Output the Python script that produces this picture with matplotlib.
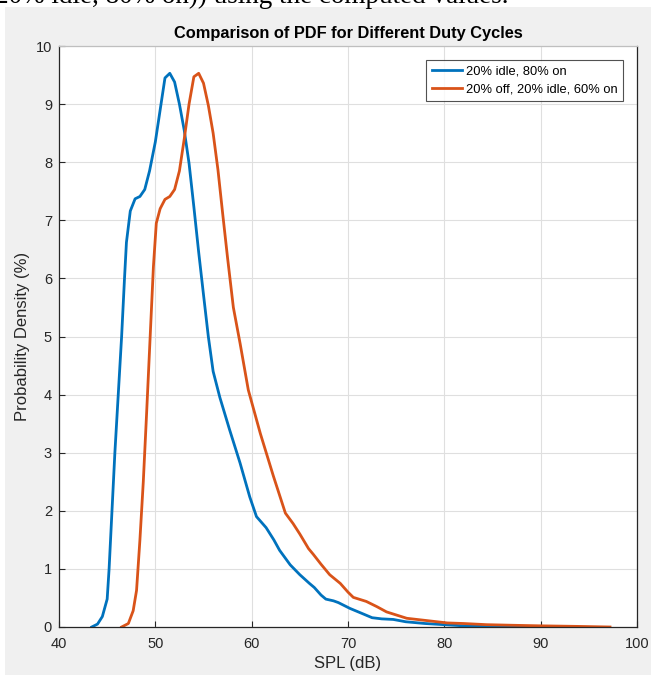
import matplotlib
matplotlib.use("Agg")
import matplotlib.pyplot as plt
from matplotlib.patches import Rectangle

# Data
spl_idle = [43.4, 44.0, 44.5, 45.0, 45.2, 45.5, 45.8, 46.15, 46.5, 46.8, 47.0, 47.4,
            47.9, 48.4, 48.9, 49.4, 50.0, 50.5, 51.0, 51.5, 52.0, 52.5, 53.0, 53.5,
            54.0, 54.5, 55.0, 55.5, 56.0, 56.7, 57.7, 58.8, 59.8, 60.5, 61.5, 62.3,
            62.9, 64.0, 65.0, 66.0, 66.5, 67.2, 67.7, 68.5, 69.0, 70.2, 71.5, 72.5,
            73.5, 74.7, 76.0, 78.0, 80.0, 82.0, 85.0, 90.0, 93.7]
pdf_idle = [0.0, 0.05, 0.18, 0.48, 1.0, 2.0, 3.0, 4.0, 5.0, 6.0, 6.62, 7.16,
            7.37, 7.41, 7.53, 7.85, 8.35, 8.9, 9.45, 9.53, 9.38, 9.0, 8.55, 7.98,
            7.23, 6.45, 5.72, 5.0, 4.4, 3.95, 3.4, 2.82, 2.24, 1.9, 1.71, 1.5,
            1.32, 1.07, 0.9, 0.75, 0.68, 0.55, 0.48, 0.45, 0.42, 0.32, 0.23, 0.16,
            0.14, 0.13, 0.09, 0.06, 0.04, 0.02, 0.01, 0.005, 0.0]

spl_off = [46.5, 47.2, 47.7, 48.05, 48.4, 48.75, 49.1, 49.45, 49.8, 50.1, 50.5, 51.0,
           51.5, 52.0, 52.5, 53.0, 53.5, 54.0, 54.5, 55.0, 55.5, 56.0, 56.5, 57.0,
           57.5, 58.1, 58.8, 59.65, 60.9, 62.25, 63.5, 64.3, 65.0, 65.9, 66.4, 67.2,
           68.1, 69.2, 70.0, 70.55, 71.9, 73.0, 74.0, 76.1, 78.2, 80.3, 82.0, 84.4,
           87.0, 90.0, 94.0, 97.2]
pdf_off = [0.0, 0.06, 0.28, 0.63, 1.5, 2.5, 3.7, 4.95, 6.2, 6.95, 7.2, 7.36,
           7.41, 7.53, 7.85, 8.4, 9.0, 9.47, 9.53, 9.36, 8.98, 8.5, 7.87, 7.1,
           6.35, 5.5, 4.88, 4.08, 3.33, 2.6, 1.96, 1.78, 1.6, 1.35, 1.25, 1.08,
           0.9, 0.75, 0.6, 0.51, 0.44, 0.35, 0.26, 0.15, 0.11, 0.07, 0.06, 0.04,
           0.03, 0.02, 0.01, 0.0]

labels = ["20% idle, 80% on", "20% off, 20% idle, 60% on"]
colors = ["#0072BD", "#D95319"]
x_ticks = [40, 50, 60, 70, 80, 90, 100]
y_ticks = [0, 1, 2, 3, 4, 5, 6, 7, 8, 9, 10]

plt.rcParams['font.family'] = ['Liberation Sans', 'DejaVu Sans']

W, H = 651, 675
fig = plt.figure(figsize=(W / 100, H / 100), dpi=100, facecolor="white")

# grey figure panel (screenshot of a MATLAB figure inside a document)
fig.patches.append(Rectangle((5 / W, 0), 1 - 5 / W, (H - 7) / H,
                             transform=fig.transFigure, facecolor="#f0f0f0",
                             edgecolor="none", zorder=-10))
# cut-off document text above the figure
fig.text(-0.008, 1 - 3 / H, "20% idle, 80% on)) using the computed values.",
         family="Liberation Serif", fontsize=19.5, color="black",
         ha="left", va="baseline")

ax = fig.add_axes([59 / W, (H - 627) / H, (637 - 59) / W, (627 - 46) / H])
ax.set_facecolor("white")

ax.plot(spl_idle, pdf_idle, color=colors[0], lw=2.0, label=labels[0])
ax.plot(spl_off, pdf_off, color=colors[1], lw=2.0, label=labels[1])

ax.set_xlim(40, 100)
ax.set_ylim(0, 10)
ax.set_xticks(x_ticks)
ax.set_yticks(y_ticks)
ax.grid(True, color="#dfdfdf", lw=0.8)
ax.set_axisbelow(True)
ax.tick_params(direction="in", length=4, width=0.8, colors="#262626",
               labelsize=10.5, top=False, right=False)
ax.tick_params(axis="x", pad=7)
ax.tick_params(axis="y", pad=5)
for s in ax.spines.values():
    s.set_color("#262626")
    s.set_linewidth(0.9)
ax.spines["top"].set_color("#bfbfbf")

ax.set_xlabel("SPL (dB)", fontsize=12, color="#262626", labelpad=4)
ax.set_ylabel("Probability Density (%)", fontsize=12, color="#262626", labelpad=4)
ax.set_title("Comparison of PDF for Different Duty Cycles", fontsize=11.8,
             fontweight="bold", color="black", pad=6)

leg = ax.legend(loc="upper right", bbox_to_anchor=(0.976, 0.976), fontsize=9.3,
                frameon=True, fancybox=False, handlelength=2.3, handletextpad=0.3,
                borderpad=0.45, labelspacing=0.45, borderaxespad=0)
leg.get_frame().set_edgecolor("#262626")
leg.get_frame().set_linewidth(0.8)

fig.savefig("out.png", dpi=100, facecolor=fig.get_facecolor())
